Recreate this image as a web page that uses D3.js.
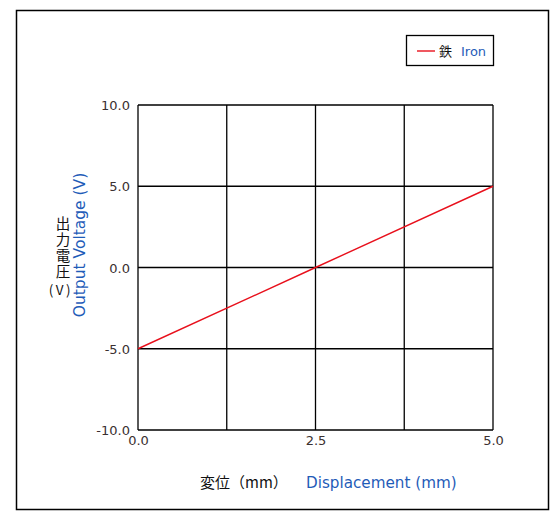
<!DOCTYPE html>
<html>
<head>
<meta charset="utf-8">
<script src="https://cdn.jsdelivr.net/npm/d3@7"></script>
<style>
  html, body { margin: 0; padding: 0; background: #fff; }
  svg { display: block; }
  text { font-family: "Noto Sans CJK JP", "Noto Sans", sans-serif; }
</style>
</head>
<body>
<svg id="chart" width="558" height="522"></svg>
<script>
// Output voltage vs displacement for an iron target
const displacement = [0.0, 2.5, 5.0];
const voltage = [-5.0, 0.0, 5.0];
const xGrid = [0, 1.25, 2.5, 3.75, 5];
const xTickLabels = [0, 2.5, 5];
const yTicks = [-10, -5, 0, 5, 10];
const seriesName = ["鉄", "Iron"];

const svg = d3.select("#chart");
const blue = "#1f5cb8";
const tickColor = "#3a3030";
const fmt = d => d3.format(".1f")(d).replace("\u2212", "-");

// outer frame
svg.append("rect")
  .attr("x", 16.5).attr("y", 10.5)
  .attr("width", 532).attr("height", 499)
  .attr("fill", "none").attr("stroke", "#000").attr("stroke-width", 1.5);

const plot = { left: 138, right: 493, top: 105, bottom: 430 };
const x = d3.scaleLinear().domain([0, 5]).range([plot.left, plot.right]);
const y = d3.scaleLinear().domain([-10, 10]).range([plot.bottom, plot.top]);

// grid
const g = svg.append("g");
g.selectAll(".vx").data(xGrid).join("line")
  .attr("x1", d => x(d)).attr("x2", d => x(d))
  .attr("y1", plot.top).attr("y2", plot.bottom)
  .attr("stroke", "#000").attr("stroke-width", 1.3);
g.selectAll(".hy").data(yTicks).join("line")
  .attr("x1", plot.left).attr("x2", plot.right)
  .attr("y1", d => y(d)).attr("y2", d => y(d))
  .attr("stroke", "#000").attr("stroke-width", 1.3);

// tick labels via d3 axes (no domain/tick lines)
const yAxis = svg.append("g")
  .attr("transform", `translate(${plot.left},0)`)
  .call(d3.axisLeft(y).tickValues(yTicks).tickFormat(fmt).tickSize(0).tickPadding(8));
yAxis.select(".domain").remove();
yAxis.selectAll("text").attr("font-size", 13).attr("fill", tickColor)
  .style("font-family", "'DejaVu Sans', sans-serif").attr("dy", "0.35em");

const xAxis = svg.append("g")
  .attr("transform", `translate(0,${plot.bottom})`)
  .call(d3.axisBottom(x).tickValues(xTickLabels).tickFormat(fmt).tickSize(0).tickPadding(6));
xAxis.select(".domain").remove();
xAxis.selectAll("text").attr("font-size", 13).attr("fill", tickColor)
  .style("font-family", "'DejaVu Sans', sans-serif");

// data line
const line = d3.line().x((d, i) => x(displacement[i])).y(d => y(d));
svg.append("path").datum(voltage)
  .attr("d", line).attr("fill", "none")
  .attr("stroke", "#e8101c").attr("stroke-width", 1.4);

// y axis title: Japanese written vertically, unit below it
svg.append("text")
  .attr("x", 63).attr("y", 216)
  .style("writing-mode", "vertical-rl")
  .style("letter-spacing", "1.5px")
  .attr("font-size", 14.5).attr("fill", "#111")
  .text("出力電圧");
svg.append("text")
  .attr("x", 61).attr("y", 295)
  .attr("text-anchor", "middle")
  .style("letter-spacing", "2.5px")
  .attr("font-size", 13.5).attr("fill", "#111")
  .text("(V)");
svg.append("text")
  .attr("transform", "translate(85,245) rotate(-90)")
  .attr("text-anchor", "middle")
  .attr("font-size", 15.5).attr("fill", blue)
  .style("font-family", "'DejaVu Sans', sans-serif")
  .text("Output Voltage (V)");

// x axis title
svg.append("text")
  .attr("x", 200).attr("y", 488)
  .attr("font-size", 15).attr("fill", "#111")
  .text("変位（mm）");
svg.append("text")
  .attr("x", 306).attr("y", 488)
  .attr("font-size", 15.2).attr("fill", blue)
  .style("font-family", "'DejaVu Sans', sans-serif")
  .text("Displacement (mm)");

// legend
const lg = svg.append("g");
lg.append("rect").attr("x", 406.5).attr("y", 35.5).attr("width", 87).attr("height", 30)
  .attr("fill", "#fff").attr("stroke", "#000").attr("stroke-width", 1.3);
lg.append("line").attr("x1", 417).attr("x2", 435).attr("y1", 51).attr("y2", 51)
  .attr("stroke", "#e8101c").attr("stroke-width", 1.4);
lg.append("text").attr("x", 439).attr("y", 56).attr("font-size", 13).attr("fill", "#111")
  .text(seriesName[0]);
lg.append("text").attr("x", 461).attr("y", 56).attr("font-size", 13).attr("fill", blue)
  .style("font-family", "'DejaVu Sans', sans-serif")
  .text(seriesName[1]);
</script>
</body>
</html>
